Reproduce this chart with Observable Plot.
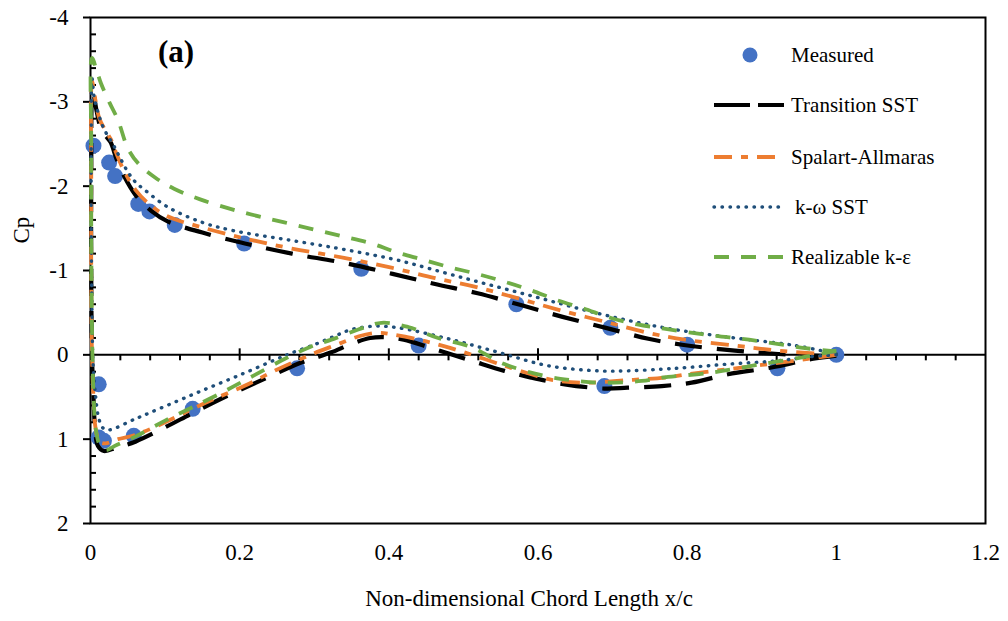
<!DOCTYPE html>
<html>
<head>
<meta charset="utf-8">
<script src="https://cdn.jsdelivr.net/npm/d3@7"></script>
<script src="https://cdn.jsdelivr.net/npm/@observablehq/plot@0.6"></script>
<style>
  html, body { margin: 0; padding: 0; background: #fff; }
  #chart { width: 1008px; height: 621px; }
</style>
</head>
<body>
<div id="chart"></div>
<script>
// ---------- Data ----------
// Measured
const measUpperX  = [0.004, 0.025, 0.033, 0.064, 0.079, 0.113, 0.206, 0.363, 0.571, 0.697, 0.80, 1.0];
const measUpperCp = [-2.48, -2.28, -2.12, -1.79, -1.70, -1.54, -1.32, -1.02, -0.60, -0.32, -0.12, 0.0];
const measLowerX  = [0.011, 0.011, 0.018, 0.058, 0.137, 0.277, 0.44, 0.689, 0.921];
const measLowerCp = [0.35, 0.98, 1.02, 0.96, 0.64, 0.16, -0.11, 0.37, 0.16];

// Transition SST
const tsstLowerX  = [1.0, 0.967, 0.913, 0.855, 0.806, 0.766, 0.72, 0.689, 0.636, 0.591, 0.555, 0.511, 0.457, 0.42, 0.395, 0.375, 0.35, 0.323, 0.3, 0.28, 0.222, 0.18, 0.137, 0.1, 0.06, 0.035, 0.018, 0.01, 0.006, 0.004, 0.002, 0.001];
const tsstLowerCp = [0.01, 0.05, 0.15, 0.23, 0.33, 0.37, 0.39, 0.40, 0.35, 0.27, 0.19, 0.07, -0.08, -0.18, -0.21, -0.20, -0.13, -0.03, 0.04, 0.10, 0.33, 0.50, 0.69, 0.86, 1.03, 1.10, 1.14, 1.08, 0.85, 0.5, 0.0, -1.0];
const tsstUpperX  = [0.001, 0.003, 0.008, 0.014, 0.02, 0.027, 0.035, 0.045, 0.06, 0.081, 0.104, 0.15, 0.207, 0.27, 0.34, 0.405, 0.462, 0.519, 0.577, 0.633, 0.691, 0.748, 0.793, 0.864, 0.922, 1.0];
const tsstUpperCp = [-2.0, -3.12, -2.9, -2.68, -2.6, -2.52, -2.32, -2.12, -1.90, -1.71, -1.58, -1.45, -1.32, -1.20, -1.09, -0.96, -0.84, -0.73, -0.59, -0.45, -0.32, -0.19, -0.12, -0.05, -0.01, 0.02];

// Spalart-Allmaras
const saLowerX  = [1.0, 0.945, 0.9, 0.855, 0.8, 0.77, 0.72, 0.66, 0.62, 0.591, 0.555, 0.515, 0.475, 0.44, 0.405, 0.386, 0.36, 0.33, 0.3, 0.249, 0.206, 0.164, 0.137, 0.1, 0.06, 0.037, 0.02, 0.012, 0.007, 0.004, 0.002, 0.001];
const saLowerCp = [0.0, 0.07, 0.12, 0.17, 0.23, 0.27, 0.30, 0.33, 0.30, 0.23, 0.13, 0.01, -0.10, -0.18, -0.24, -0.26, -0.22, -0.12, -0.02, 0.18, 0.37, 0.53, 0.64, 0.80, 0.95, 1.0, 1.05, 1.03, 0.88, 0.5, 0.0, -1.0];
const saUpperX  = [0.001, 0.002, 0.006, 0.012, 0.02, 0.027, 0.035, 0.045, 0.06, 0.081, 0.104, 0.15, 0.207, 0.27, 0.34, 0.405, 0.462, 0.519, 0.577, 0.633, 0.691, 0.748, 0.797, 0.864, 0.922, 1.0];
const saUpperCp = [-2.0, -3.25, -3.05, -2.8, -2.66, -2.56, -2.38, -2.18, -1.96, -1.77, -1.64, -1.51, -1.38, -1.26, -1.15, -1.03, -0.91, -0.80, -0.66, -0.52, -0.39, -0.26, -0.18, -0.11, -0.05, 0.0];

// k-omega SST
const kwLowerX  = [1.0, 0.967, 0.922, 0.855, 0.8, 0.766, 0.72, 0.681, 0.614, 0.547, 0.48, 0.413, 0.381, 0.35, 0.327, 0.3, 0.269, 0.25, 0.2, 0.148, 0.1, 0.06, 0.025, 0.017, 0.011, 0.007, 0.004, 0.003, 0.002, 0.001];
const kwLowerCp = [0.0, 0.02, 0.07, 0.11, 0.15, 0.17, 0.19, 0.19, 0.13, -0.03, -0.19, -0.32, -0.34, -0.30, -0.22, -0.12, -0.02, 0.05, 0.24, 0.43, 0.61, 0.76, 0.89, 0.87, 0.75, 0.5, 0.2, 0.0, -0.5, -1.5];
const kwUpperX  = [0.001, 0.002, 0.005, 0.011, 0.018, 0.03, 0.04, 0.05, 0.06, 0.072, 0.104, 0.15, 0.193, 0.26, 0.327, 0.381, 0.413, 0.501, 0.591, 0.681, 0.77, 0.855, 0.945, 1.0];
const kwUpperCp = [-2.5, -3.28, -3.05, -2.85, -2.68, -2.5, -2.33, -2.17, -2.05, -1.96, -1.75, -1.57, -1.47, -1.37, -1.27, -1.18, -1.12, -0.91, -0.70, -0.49, -0.32, -0.21, -0.11, -0.01];

// Realizable k-epsilon
const rkeLowerX  = [1.0, 0.967, 0.9, 0.833, 0.766, 0.739, 0.681, 0.645, 0.609, 0.555, 0.511, 0.466, 0.426, 0.39, 0.359, 0.323, 0.296, 0.26, 0.218, 0.18, 0.137, 0.1, 0.06, 0.035, 0.02, 0.012, 0.007, 0.004, 0.002, 0.001];
const rkeLowerCp = [-0.05, 0.01, 0.11, 0.21, 0.27, 0.31, 0.33, 0.30, 0.25, 0.11, -0.09, -0.20, -0.33, -0.38, -0.30, -0.18, -0.10, 0.05, 0.25, 0.43, 0.62, 0.78, 0.97, 1.07, 1.13, 1.06, 0.88, 0.45, -0.3, -1.5];
const rkeUpperX  = [0.001, 0.002, 0.008, 0.014, 0.025, 0.037, 0.05, 0.064, 0.087, 0.112, 0.148, 0.2, 0.26, 0.336, 0.377, 0.409, 0.445, 0.481, 0.518, 0.554, 0.589, 0.625, 0.661, 0.697, 0.733, 0.769, 0.833, 0.883, 0.958, 1.0];
const rkeUpperCp = [-2.5, -3.52, -3.38, -3.22, -3.0, -2.78, -2.45, -2.27, -2.1, -1.97, -1.84, -1.70, -1.57, -1.41, -1.32, -1.22, -1.13, -1.04, -0.96, -0.87, -0.77, -0.65, -0.55, -0.44, -0.36, -0.31, -0.23, -0.18, -0.08, -0.04];

// Axes ticks
const xMajor = [0, 0.2, 0.4, 0.6, 0.8, 1, 1.2];
const xMinor = d3.range(1, 30).map(i => +(i * 0.04).toFixed(2)).filter(v => !xMajor.some(m => Math.abs(m - v) < 1e-9));
const yMajor = [-4, -3, -2, -1, 0, 1, 2];
const yMinor = d3.range(-20, 11).map(i => +(i * 0.2).toFixed(1)).filter(v => !yMajor.includes(v));

const seriesNames = ["Measured", "Transition SST", "Spalart-Allmaras", "k-\u03C9 SST", "Realizable k-\u03B5"];

// ---------- Build tables ----------
function pts(xs, cs) { return xs.map((x, i) => ({x, cp: cs[i]})); }
const measured = [...pts(measUpperX, measUpperCp), ...pts(measLowerX, measLowerCp)];
function loop(lx, lc, ux, uc) { return [...pts(lx, lc), ...pts(ux, uc)]; }

const models = [
  {name: seriesNames[1], data: loop(tsstLowerX, tsstLowerCp, tsstUpperX, tsstUpperCp), stroke: "#000000", width: 4.2, dash: "27,15", cap: "butt"},
  {name: seriesNames[2], data: loop(saLowerX, saLowerCp, saUpperX, saUpperCp), stroke: "#ED7D31", width: 3.8, dash: "18,9,7,9", cap: "butt"},
  {name: seriesNames[3], data: loop(kwLowerX, kwLowerCp, kwUpperX, kwUpperCp), stroke: "#1F4E79", width: 3.4, dash: "0.5,7.5", cap: "round"},
  {name: seriesNames[4], data: loop(rkeLowerX, rkeLowerCp, rkeUpperX, rkeUpperCp), stroke: "#70AD47", width: 3.8, dash: "15,12", cap: "butt"}
];

const FONT = "Liberation Serif, Times New Roman, serif";

const chart = Plot.plot({
  width: 1008,
  height: 621,
  marginLeft: 90,
  marginRight: 23,
  marginTop: 17,
  marginBottom: 98,
  x: {domain: [0, 1.2]},
  y: {domain: [-4, 2], reverse: true},
  style: {fontFamily: FONT, fontSize: "23px", color: "black", background: "white"},
  marks: [
    Plot.axisY({ticks: yMajor, tickSize: 7, tickPadding: 15, tickFormat: d => String(d), strokeWidth: 2, label: null, fontSize: 23}),
    Plot.axisX({ticks: xMajor, tickSize: 0, tickPadding: 20, tickFormat: d => String(d), label: null, fontSize: 23}),
    Plot.ruleY(yMinor, {y: d => d, x1: () => 0, x2: () => 0, insetRight: -6, stroke: "black", strokeWidth: 2}),
    Plot.ruleY([0], {stroke: "black", strokeWidth: 2}),
    Plot.ruleX(xMajor.slice(1, -1), {x: d => d, y1: () => 0, y2: () => 0, insetTop: -6, insetBottom: -6, stroke: "black", strokeWidth: 2}),
    Plot.ruleX(xMinor, {x: d => d, y1: () => 0, y2: () => 0, insetTop: 0, insetBottom: -6, stroke: "black", strokeWidth: 2}),
    Plot.frame({stroke: "black", strokeWidth: 2}),
    Plot.dot(measured, {x: "x", y: "cp", r: 8, fill: "#4472C4", stroke: "none"}),
    ...models.map(m => Plot.line(m.data, {x: "x", y: "cp", stroke: m.stroke, strokeWidth: m.width, strokeDasharray: m.dash, strokeLinecap: m.cap, curve: "catmull-rom"})),
    Plot.text(["Non-dimensional Chord Length x/c"], {text: d => d, frameAnchor: "bottom", dy: 82, dx: -9, fontSize: 23}),
    Plot.text(["Cp"], {text: d => d, frameAnchor: "left", dx: -69, dy: -27, rotate: -90, fontSize: 23})
  ]
});
document.getElementById("chart").appendChild(chart);

// ---------- Panel label and legend (drawn into the same SVG) ----------
const svg = d3.select(chart);
svg.append("text").attr("x", 158).attr("y", 62).attr("text-anchor", "start")
  .attr("font-family", FONT).attr("font-weight", "bold").attr("font-size", 31)
  .attr("fill", "black").text("(a)");

const legendRowY = [55, 105, 157, 207, 257];
const leg = svg.append("g").attr("font-family", FONT).attr("font-size", 21)
  .attr("fill", "black").attr("text-anchor", "start");
seriesNames.forEach((name, i) => {
  const y = legendRowY[i];
  if (i === 0) {
    leg.append("circle").attr("cx", 750).attr("cy", y).attr("r", 7.5).attr("fill", "#4472C4");
  } else {
    const m = models[i - 1];
    leg.append("line").attr("x1", 714).attr("x2", 784).attr("y1", y).attr("y2", y)
      .attr("stroke", m.stroke).attr("stroke-width", m.width)
      .attr("stroke-dasharray", i === 1 ? "36,8,30" : m.dash).attr("stroke-linecap", m.cap);
  }
  leg.append("text").attr("x", i === 3 ? 795 : 791).attr("y", y).attr("dy", "0.35em")
    .attr("text-anchor", "start").text(name);
});
</script>
</body>
</html>
